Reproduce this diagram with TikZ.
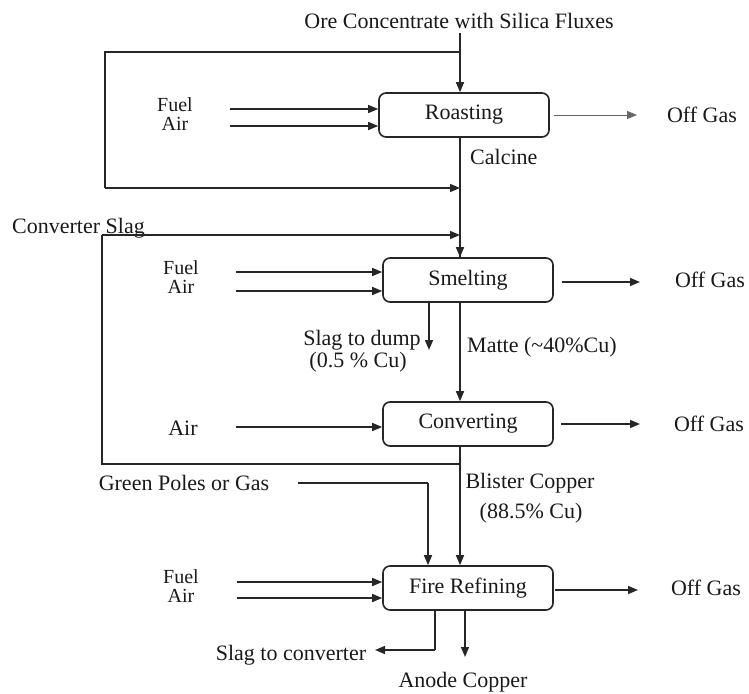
\documentclass[tikz,border=0pt]{standalone}
\usepackage{fontspec}
\setmainfont{Liberation Serif}
\usetikzlibrary{arrows.meta}
\begin{document}
\begin{tikzpicture}[x=1pt,y=-1pt,
  every node/.style={font=\fontsize{22}{24}\selectfont, inner sep=0pt, text=black!90},
  pair/.style={align=center, font=\fontsize{20}{19}\selectfont},
  proc/.style={draw=black!85, rounded corners=7pt, line width=1.6pt, minimum width=170pt, minimum height=44pt},
  link/.style={line width=1.5pt, draw=black!85},
  flow/.style={link, -{Triangle[length=10pt,width=8pt]}},
  thinflow/.style={line width=0.8pt, draw=black!60, -{Triangle[length=10pt,width=8pt]}}]
\useasboundingbox (0,0) rectangle (749,693);

% process boxes
\node (ore) at (459,21) {Ore Concentrate with Silica Fluxes};
\node[proc] (roast) at (464,115) {Roasting};
\node[proc] (smelt) at (468,280) {Smelting};
\node[proc] (conv) at (468,424) {Converting};
\node[proc] (fire) at (468,588) {Fire Refining};

% labels
\node[pair] (fa1) at (175,114) {Fuel\\Air};
\node (og1) at (702,115) {Off Gas};
\node[anchor=west] (calc) at (470,157) {Calcine};
\node[anchor=base west] (cslag) at (12,233) {Converter Slag};
\node[pair] (fa2) at (181,277) {Fuel\\Air};
\node (og2) at (710,280) {Off Gas};
\node (dump) at (362,340) {Slag to dump};
\node (dumpcu) at (358,362) {(0.5 \% Cu)};
\node[anchor=west] (matte) at (467,347) {Matte (\textasciitilde40\%Cu)};
\node (air3) at (183,428) {Air};
\node (og3) at (709,424) {Off Gas};
\node (green) at (184,483) {Green Poles or Gas};
\node (blister) at (530,483) {Blister Copper};
\node (blistercu) at (531,513) {(88.5\% Cu)};
\node[pair] (fa4) at (181,586) {Fuel\\Air};
\node (og4) at (706,588) {Off Gas};
\node (slagconv) at (291,655) {Slag to converter};
\node (anode) at (463,682) {Anode Copper};

% coordinates
\coordinate (m0) at (460,33);
\coordinate (j1) at (460,52);
\coordinate (l1) at (105,52);
\coordinate (l2) at (105,188);
\coordinate (j2) at (460,188);
\coordinate (j3) at (460,464);
\coordinate (c1) at (102,464);
\coordinate (c2) at (102,235);
\coordinate (c3) at (460,235);
\coordinate (f1) at (230,109);
\coordinate (a1) at (230,126);
\coordinate (f2) at (236,272);
\coordinate (a2) at (236,291);
\coordinate (a3) at (236,427);
\coordinate (f4) at (237,582);
\coordinate (a4) at (237,598);
\coordinate (o1) at (637,115);
\coordinate (o2) at (640,282);
\coordinate (o3) at (640,424);
\coordinate (o4) at (638,590);
\coordinate (sd) at (429,350);
\coordinate (gp1) at (298,483);
\coordinate (gp2) at (428,483);
\coordinate (sc1) at (435,650);
\coordinate (sc2) at (375,650);
\coordinate (an) at (465,657);

% main stream
\draw[flow] (m0) -- (m0 |- roast.north);
\draw[link] (roast.south -| m0) -- (smelt.north -| m0);
\draw[flow] (j2) -- (smelt.north -| m0);
\draw[flow] (smelt.south -| m0) -- (conv.north -| m0);
\draw[flow] (conv.south -| m0) -- (fire.north -| m0);

% recycle loops
\draw[link] (j1) -- (l1) -- (l2);
\draw[flow] (l2) -- (j2);
\draw[link] (j3) -- (c1) -- (c2);
\draw[flow] (c2) -- (c3);

% fuel / air inputs
\draw[flow] (f1) -- (f1 -| roast.west);
\draw[flow] (a1) -- (a1 -| roast.west);
\draw[flow] (f2) -- (f2 -| smelt.west);
\draw[flow] (a2) -- (a2 -| smelt.west);
\draw[flow] (a3) -- (a3 -| conv.west);
\draw[flow] (f4) -- (f4 -| fire.west);
\draw[flow] (a4) -- (a4 -| fire.west);

% off gas
\draw[thinflow, shorten <=4pt] (roast.east) -- (o1);
\draw[flow] ([xshift=8pt]smelt.east |- o2) -- (o2);
\draw[flow] ([xshift=7pt]conv.east |- o3) -- (o3);
\draw[flow] ([xshift=1pt]fire.east |- o4) -- (o4);

% slag outputs and green poles
\draw[flow] (smelt.south -| sd) -- (sd);
\draw[link] (gp1) -- (gp2);
\draw[flow] (gp2) -- (gp2 |- fire.north);
\draw[link] (fire.south -| sc1) -- (sc1);
\draw[flow] (sc1) -- (sc2);
\draw[flow] (fire.south -| an) -- (an);
\end{tikzpicture}
\end{document}
